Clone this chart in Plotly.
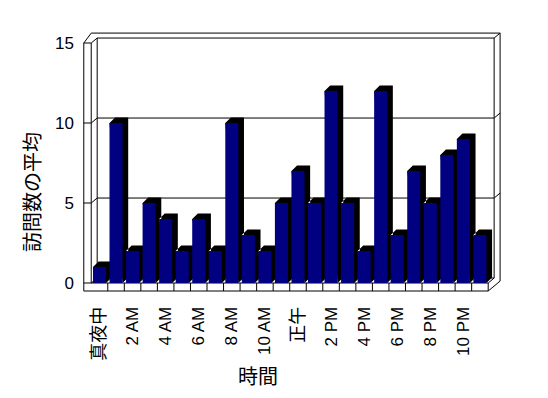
import plotly.graph_objects as go

# ---- data ----
hours = ["真夜中", "1 AM", "2 AM", "3 AM", "4 AM", "5 AM", "6 AM", "7 AM", "8 AM", "9 AM",
         "10 AM", "11 AM", "正午", "1 PM", "2 PM", "3 PM", "4 PM", "5 PM", "6 PM", "7 PM",
         "8 PM", "9 PM", "10 PM", "11 PM"]
visits = [1, 10, 2, 5, 4, 2, 4, 2, 10, 3, 2, 5, 7, 5, 12, 5, 2, 12, 3, 7, 5, 8, 9, 3]
tick_labels = ["真夜中", "2 AM", "4 AM", "6 AM", "8 AM", "10 AM", "正午",
               "2 PM", "4 PM", "6 PM", "8 PM", "10 PM"]
y_ticks = [0, 5, 10, 15]
y_title = "訪問数の平均"
x_title = "時間"

# ---- geometry (data units) ----
n = len(hours)
xs = list(range(n))
BAR_W = 0.79
BDX, BDY = 0.34, 0.35          # bar extrusion depth
DX, DY = 0.36, 0.31            # wall depth
WL_OUT, WL_IN = -0.95, -0.5
XR = n - 0.5
TOP = y_ticks[-1]
FLOOR = -0.5

segs = []
def seg(*pts):
    segs.append("M " + " L ".join(f"{x},{y}" for x, y in pts))

seg((WL_OUT, FLOOR), (WL_OUT, TOP))
seg((WL_IN, 0), (WL_IN, TOP))
seg((WL_OUT, TOP), (WL_IN, TOP))
seg((WL_OUT, TOP), (WL_IN, TOP + 2 * DY), (XR + 2 * DX, TOP + 2 * DY))
seg((WL_IN, TOP), (WL_IN + DX, TOP + DY), (XR + DX, TOP + DY), (XR + 2 * DX, TOP + 2 * DY))
seg((WL_IN + DX, DY), (WL_IN + DX, TOP + DY))
seg((XR + DX, DY), (XR + DX, TOP + DY))
seg((XR + 2 * DX, FLOOR + 2 * DY), (XR + 2 * DX, TOP + 2 * DY))
seg((WL_OUT, 0), (XR, 0))
seg((WL_OUT, FLOOR), (XR, FLOOR), (XR + 2 * DX, FLOOR + 2 * DY))
seg((XR, FLOOR), (XR, 0), (XR + DX, DY))
seg((WL_IN, 0), (WL_IN + DX, DY), (XR + DX, DY))
for k in range(n - 1):
    seg((k + 0.5, FLOOR), (k + 0.5, 0))
for g in y_ticks[1:-1]:
    seg((WL_OUT, g), (WL_IN, g), (WL_IN + DX, g + DY), (XR + DX, g + DY), (XR + 2 * DX, g + 2 * DY))
frame_path = " ".join(segs)

ext = []
for i, v in zip(xs, visits):
    x0, x1 = i - BAR_W / 2, i + BAR_W / 2
    ext.append(f"M {x0},{v} L {x0 + BDX},{v + BDY} L {x1 + BDX},{v + BDY} "
               f"L {x1 + BDX},{BDY} L {x1},0 Z")
ext_path = " ".join(ext)

shapes = [
    dict(type="path", path=frame_path, xref="x", yref="y", layer="below",
         line=dict(color="black", width=1)),
    dict(type="path", path=ext_path, xref="x", yref="y", layer="below",
         fillcolor="black", line=dict(width=0)),
]

fig = go.Figure()
fig.add_trace(go.Bar(x=xs, y=visits, width=BAR_W, hovertext=hours,
                     marker=dict(color="#000080", line=dict(width=0))))

FONT = "Liberation Sans, Noto Sans CJK JP, sans-serif"
OFF = 8  # page body margin
PL, PR, PT, PB = 75, 510, 30, 296
px_per_x, px_per_y = 16.54, 16.0
x0px, y0px = 99.5, 283.0
xr = [(PL - x0px) / px_per_x, (PR - x0px) / px_per_x]
yr = [(y0px - PB) / px_per_y, (y0px - PT) / px_per_y]

def lab(t):
    if any(ord(c) > 0x2E80 for c in t):
        return f'<span style="font-size:18px">{t}</span>'
    return t

fig.update_layout(
    width=548, height=398, autosize=False,
    margin=dict(l=PL - OFF, r=548 - (PR - OFF), t=PT - OFF, b=398 - (PB - OFF)),
    paper_bgcolor="white", plot_bgcolor="white",
    showlegend=False, shapes=shapes,
    font=dict(family=FONT, color="black"),
    xaxis=dict(range=xr, tickmode="array", tickvals=xs[::2],
               ticktext=[lab(t) for t in tick_labels],
               tickangle=-90, showgrid=False, zeroline=False, showline=False,
               ticks="outside", ticklen=3, tickcolor="rgba(0,0,0,0)",
               tickfont=dict(size=17, family=FONT, color="black")),
    yaxis=dict(range=yr, tickmode="array", tickvals=y_ticks,
               ticktext=[str(t) for t in y_ticks], showgrid=False, zeroline=False,
               showline=False, ticks="", tickfont=dict(size=17, family=FONT, color="black")),
    annotations=[
        dict(text=x_title, xref="paper", yref="paper",
             x=(258 - PL) / (PR - PL), y=(PB - 377) / (PB - PT),
             showarrow=False, xanchor="center", yanchor="middle",
             font=dict(size=20, family=FONT, color="black")),
        dict(text=y_title, xref="paper", yref="paper", textangle=-90,
             x=(33 - PL) / (PR - PL), y=(PB - 192) / (PB - PT),
             showarrow=False, xanchor="center", yanchor="middle",
             font=dict(size=20, family=FONT, color="black")),
    ],
)

fig.write_html("out.html")
